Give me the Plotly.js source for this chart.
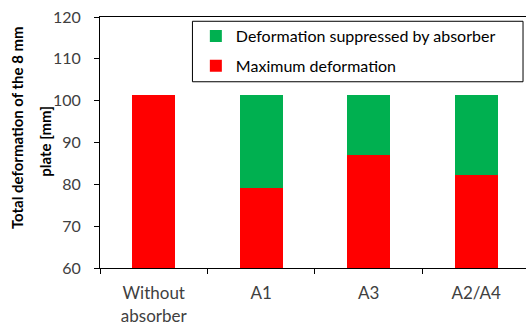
<!DOCTYPE html>
<html>
<head>
<meta charset="utf-8">
<script src="https://cdn.plot.ly/plotly-3.0.1.min.js"></script>
<style>html,body{margin:0;padding:0;overflow:hidden;background:#fff}</style>
</head>
<body>
<div id="chart" style="width:526px;height:324px"></div>
<script>
const categories = ["Without<br>absorber", "A1", "A3", "A2/A4"];
const maxDeformation = [101.3, 79.1, 87.0, 82.2];
const suppressed = [0, 22.2, 14.3, 19.1];
const yTicks = [60, 70, 80, 90, 100, 110, 120];
const yTitleLines = ["Total deformation of the 8 mm", "plate [mm]"];

const FONT = "Lato, 'Liberation Sans', sans-serif";

const traces = [
  {
    type: "bar", name: "Maximum deformation",
    x: categories, y: maxDeformation,
    marker: {color: "#FF0000", line: {width: 0}},
    width: 0.4, legendgroup: "max", legendrank: 2
  },
  {
    type: "bar", name: "Deformation suppressed by absorber",
    x: categories, y: suppressed,
    marker: {color: "#00B050", line: {width: 0}},
    width: 0.4, legendgroup: "sup", legendrank: 1
  }
];

const layout = {
  width: 526, height: 324,
  margin: {l: 100, r: 0, t: 17, b: 56, pad: 0},
  barmode: "stack",
  paper_bgcolor: "#fff", plot_bgcolor: "#fff",
  font: {family: FONT, size: 14, color: "#404040"},
  showlegend: true,
  legend: {
    x: 0.225, y: 0.992, xanchor: "left", yanchor: "top",
    traceorder: "grouped", tracegroupgap: 6,
    bgcolor: "rgba(0,0,0,0)", borderwidth: 0,
    font: {family: FONT, size: 16, color: "#000"}
  },
  shapes: [{
    type: "rect", xref: "paper", yref: "paper",
    x0: 0.217, x1: 0.993, y0: 0.742, y1: 0.983,
    line: {color: "#000", width: 1}, fillcolor: "rgba(0,0,0,0)"
  }],
  annotations: [
    {text: "<b>" + yTitleLines[0] + "</b>", xref: "paper", yref: "paper",
     x: -0.195, y: 0.561, textangle: -90, showarrow: false,
     xanchor: "center", yanchor: "middle",
     font: {family: FONT, size: 15, color: "#000"}},
    {text: "<b>" + yTitleLines[1] + "</b>", xref: "paper", yref: "paper",
     x: -0.129, y: 0.503, textangle: -90, showarrow: false,
     xanchor: "center", yanchor: "middle",
     font: {family: FONT, size: 15, color: "#000"}}
  ],
  xaxis: {
    type: "category", range: [-0.5, 3.463],
    showline: true, linecolor: "#000", linewidth: 1, mirror: true,
    ticks: "outside", tickson: "boundaries", ticklen: 5, tickcolor: "#000", tickwidth: 1,
    ticklabelstandoff: 10,
    showgrid: false, zeroline: false,
    tickfont: {family: FONT, size: 17, color: "#404040"}
  },
  yaxis: {
    range: [60, 120], tickvals: yTicks, ticktext: yTicks.map(String),
    showline: true, linecolor: "#000", linewidth: 1,
    ticks: "outside", ticklen: 5, tickcolor: "#000", tickwidth: 1,
    ticklabelstandoff: 10,
    showgrid: false, zeroline: false,
    tickfont: {family: FONT, size: 16, color: "#404040"}
  }
};

Plotly.newPlot("chart", traces, layout, {displayModeBar: false, staticPlot: true});
</script>
</body>
</html>
